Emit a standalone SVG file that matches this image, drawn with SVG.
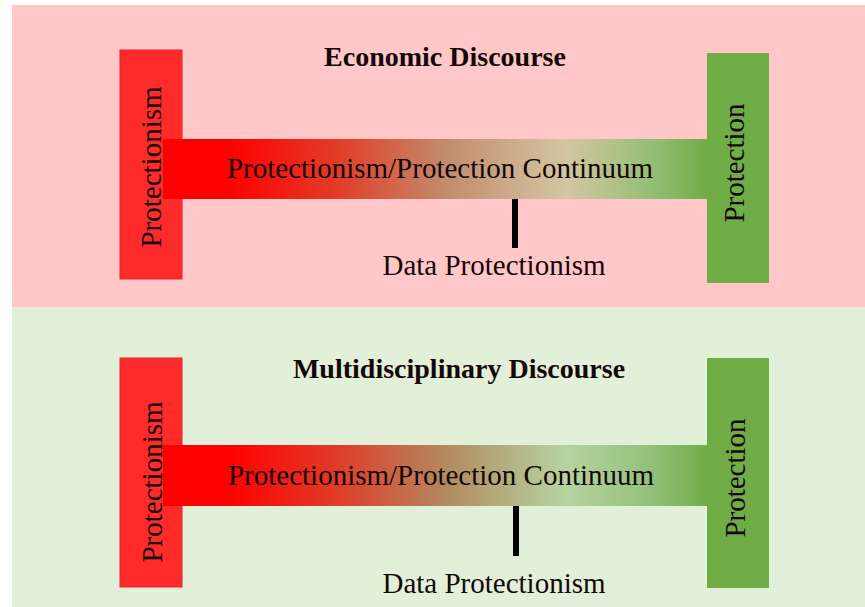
<svg xmlns="http://www.w3.org/2000/svg" width="865" height="607" viewBox="0 0 865 607">
  <defs>
    <linearGradient id="gradTop" x1="0" y1="0" x2="1" y2="0">
      <stop offset="0" stop-color="#FF0000"/>
      <stop offset="0.12" stop-color="#FF0000"/>
      <stop offset="0.32" stop-color="#E23C28"/>
      <stop offset="0.52" stop-color="#C28C6C"/>
      <stop offset="0.74" stop-color="#D4C6A2"/>
      <stop offset="0.9" stop-color="#94BE74"/>
      <stop offset="1" stop-color="#70AD47"/>
    </linearGradient>
    <linearGradient id="gradBottom" x1="0" y1="0" x2="1" y2="0">
      <stop offset="0" stop-color="#FF0000"/>
      <stop offset="0.12" stop-color="#FF0000"/>
      <stop offset="0.32" stop-color="#E03C28"/>
      <stop offset="0.52" stop-color="#B28A60"/>
      <stop offset="0.74" stop-color="#B6D4A0"/>
      <stop offset="0.9" stop-color="#92C07A"/>
      <stop offset="1" stop-color="#70AD47"/>
    </linearGradient>
    <style>
      .lbl { font-family: "Liberation Serif", "Times New Roman", serif; font-size: 29px; fill: #140808; text-anchor: middle; }
      .title { font-weight: bold; font-size: 28px; }
      .redbar { fill: #FF2A2A; stroke: #E82424; stroke-width: 1; }
      .greenbar { fill: #70AD47; }
      .tick { fill: #000000; }
    </style>
  </defs>

  <rect x="0" y="0" width="865" height="607" fill="#FFFFFF"/>

  <!-- Top panel: Economic Discourse -->
  <g id="panel-economic">
    <rect x="12" y="5" width="853" height="302" fill="#FFC7C7"/>
  </g>
  <g id="econ-title">
    <text class="lbl title" x="445" y="66">Economic Discourse</text>
  </g>
  <g id="econ-protectionism">
    <rect class="redbar" x="120" y="50" width="62" height="229"/>
  </g>
  <g id="econ-continuum">
    <rect x="163" y="139" width="544" height="60" fill="url(#gradTop)"/>
    <text class="lbl" x="440" y="178">Protectionism/Protection Continuum</text>
  </g>
  <g id="econ-protectionism-label">
    <text class="lbl" transform="translate(161,167) rotate(-90)" x="0" y="0">Protectionism</text>
  </g>
  <g id="econ-protection">
    <rect class="greenbar" x="707" y="53" width="62" height="230"/>
    <text class="lbl" transform="translate(744,163) rotate(-90)" x="0" y="0">Protection</text>
  </g>
  <g id="econ-data">
    <text class="lbl" x="494" y="275">Data Protectionism</text>
  </g>

  <!-- Bottom panel: Multidisciplinary Discourse -->
  <g id="panel-multi">
    <rect x="12" y="307" width="853" height="300" fill="#E2EFD9"/>
  </g>
  <g id="multi-title">
    <text class="lbl title" x="459" y="378">Multidisciplinary Discourse</text>
  </g>
  <g id="multi-protectionism">
    <rect class="redbar" x="120" y="358" width="62" height="229"/>
  </g>
  <g id="multi-continuum">
    <rect x="163" y="445" width="544" height="61" fill="url(#gradBottom)"/>
    <text class="lbl" x="441" y="485">Protectionism/Protection Continuum</text>
  </g>
  <g id="multi-protectionism-label">
    <text class="lbl" transform="translate(162,482) rotate(-90)" x="0" y="0">Protectionism</text>
  </g>
  <g id="multi-protection">
    <rect class="greenbar" x="707" y="358" width="62" height="230"/>
    <text class="lbl" transform="translate(745,478) rotate(-90)" x="0" y="0">Protection</text>
  </g>
  <g id="multi-data">
    <text class="lbl" x="494" y="593">Data Protectionism</text>
  </g>

  <!-- Connectors: tick marks from continuum to Data Protectionism -->
  <g id="connectors">
    <rect class="tick" x="512" y="199" width="6" height="49"/>
    <rect class="tick" x="513" y="506" width="6" height="50"/>
  </g>
</svg>
